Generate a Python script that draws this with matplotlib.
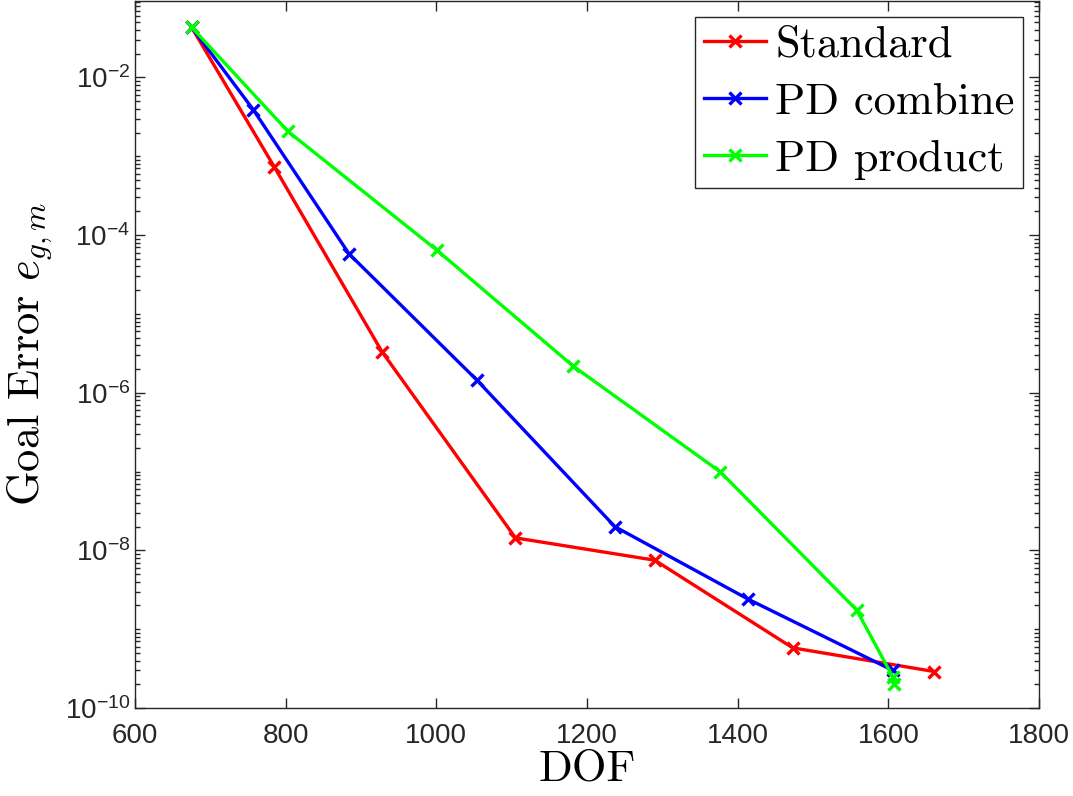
import matplotlib
matplotlib.use("Agg")
import matplotlib.pyplot as plt
from matplotlib.ticker import LogLocator, NullFormatter, FixedLocator
import numpy as np

plt.rcParams['font.family'] = 'Liberation Sans'
plt.rcParams['mathtext.fontset'] = 'cm'

# values
dof_standard = [675, 785, 928, 1105, 1290, 1473, 1661]
err_standard = [4.35e-2, 7.3e-4, 3.3e-6, 1.44e-8, 7.5e-9, 5.8e-10, 2.9e-10]

dof_combine = [675, 757, 884, 1054, 1237, 1414, 1606]
err_combine = [4.35e-2, 3.9e-3, 5.8e-5, 1.44e-6, 2.0e-8, 2.4e-9, 3.0e-10]

dof_product = [675, 803, 1001, 1181, 1377, 1558, 1606, 1608]
err_product = [4.35e-2, 2.07e-3, 6.4e-5, 2.2e-6, 9.9e-8, 1.75e-9, 2.47e-10, 2.0e-10]

labels = ['Standard', 'PD combine', 'PD product']
colors = ['#ff0000', '#0000ff', '#00ff00']

fig = plt.figure(figsize=(10.73, 7.96), dpi=100)
ax = fig.add_axes([135/1073, 88/796, 904/1073, 707/796])

series = [(dof_standard, err_standard), (dof_combine, err_combine), (dof_product, err_product)]
for (x, y), lab, c in zip(series, labels, colors):
    ax.plot(x, y, '-x', color=c, lw=2.4, ms=9, mew=2.4, label=lab)

ax.set_yscale('log')
ax.set_xlim(600, 1800)
ax.set_ylim(1e-10, 10**-1.03)
ax.set_xticks(np.arange(600, 1801, 200))
ax.yaxis.set_major_locator(FixedLocator([1e-10, 1e-8, 1e-6, 1e-4, 1e-2]))
ax.yaxis.set_minor_locator(LogLocator(base=10, subs=np.arange(1, 10), numticks=50))
ax.yaxis.set_minor_formatter(NullFormatter())

grey = '#262626'
for s in ax.spines.values():
    s.set_color(grey)
    s.set_linewidth(1.0)
ax.tick_params(which='both', direction='in', top=True, right=True, colors=grey,
               labelcolor=grey, labelsize=20)
ax.tick_params(which='major', length=7, width=1.0)
ax.tick_params(which='minor', length=3.6, width=1.0)
ax.tick_params(axis='x', pad=11)

ax.set_xlabel('DOF', fontfamily='cmr10', fontsize=32, labelpad=0)
ax.set_ylabel(r'Goal Error $e_{g,m}$', fontfamily='cmr10', fontsize=32, labelpad=8)

leg = ax.legend(loc='upper right', prop={'family': 'cmr10', 'size': 32},
                fancybox=False, edgecolor=grey, framealpha=1, numpoints=1,
                handlelength=1.4, handletextpad=0.2, labelspacing=0.38,
                borderpad=0.2, borderaxespad=0.35)
leg.get_frame().set_linewidth(1.0)

fig.savefig('out.png', dpi=100)
